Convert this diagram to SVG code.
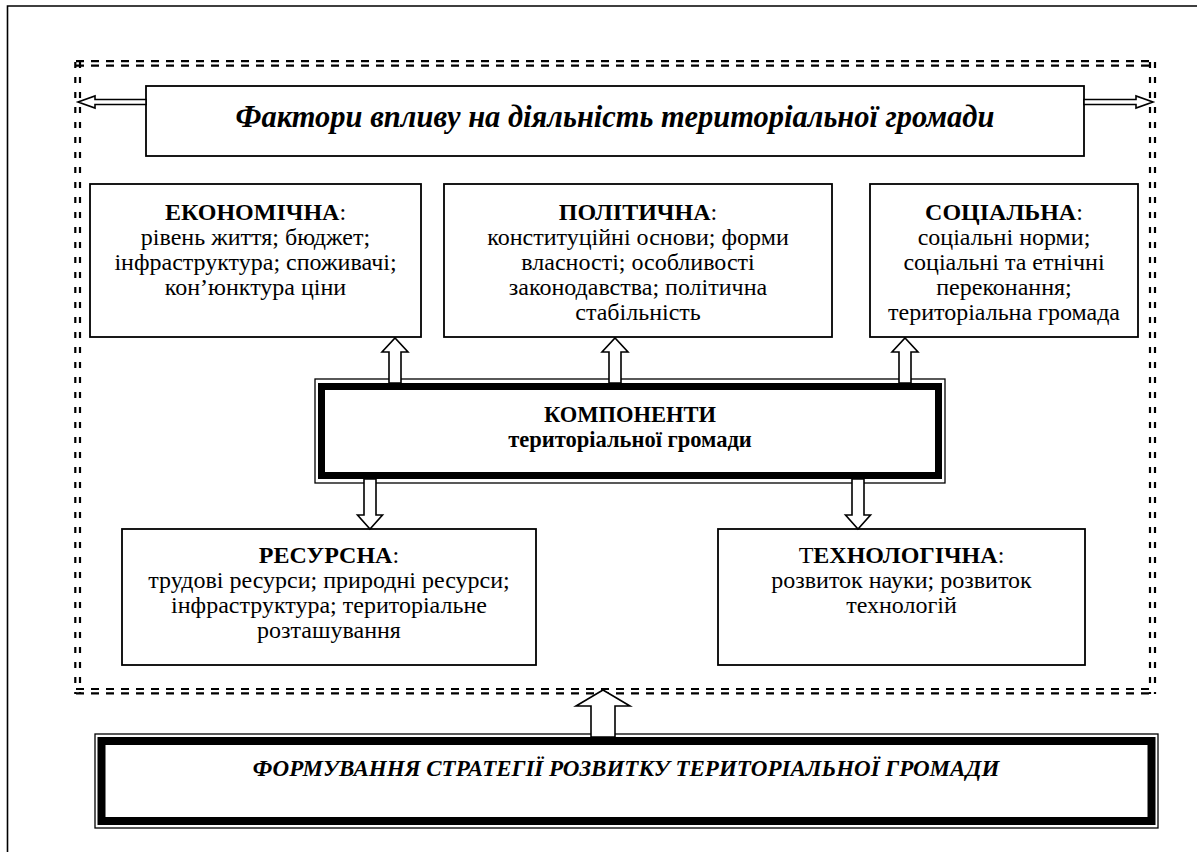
<svg xmlns="http://www.w3.org/2000/svg" width="1197" height="852" viewBox="0 0 1197 852">
<style>
text{font-family:"Liberation Serif","Times New Roman",serif;fill:#000;text-anchor:middle}
.t{font-size:24px}
.b{font-weight:bold}
.n{font-weight:normal}
.bi{font-weight:bold;font-style:italic}
.box{fill:#fff;stroke:#000;stroke-width:1.8}
.thin{fill:none;stroke:#000;stroke-width:1.3}
.thick{fill:none;stroke:#000}
.dh{fill:none;stroke:#000;stroke-width:2.2;stroke-dasharray:8 7}
.dv{fill:none;stroke:#000;stroke-width:2.2;stroke-dasharray:6 9}
.arr{fill:#fff;stroke:#000;stroke-width:1.6;stroke-linejoin:miter}
</style>
<rect width="1197" height="852" fill="#fff"/>
<g id="frame">
<path d="M7.5 852V6H1197" fill="none" stroke="#000" stroke-width="1.6"/>
</g>
<g id="dashed-frame">
<path class="dh" d="M76 61.2H1156M76 65.6H1156M76 689H1156M76 693.4H1156"/>
<path class="dv" d="M75.3 62V694M80 62V694M1150 62V694M1155 62V694"/>
</g>
<g id="factors">
<rect class="box" x="146" y="86" width="938" height="70"/>
<text class="bi" x="615" y="127" font-size="30.5">Фактори впливу на діяльність територіальної громади</text>
</g>
<g id="economic">
<rect class="box" x="90" y="184" width="331" height="153"/>
<text class="t" x="255.5"><tspan class="b" x="255.5" y="220">ЕКОНОМІЧНА<tspan class="n">:</tspan></tspan><tspan x="255.5" y="245">рівень життя; бюджет;</tspan><tspan x="255.5" y="270">інфраструктура; споживачі;</tspan><tspan x="255.5" y="295">кон’юнктура ціни</tspan></text>
</g>
<g id="political">
<rect class="box" x="444" y="184" width="388" height="153"/>
<text class="t" x="638"><tspan class="b" x="638" y="220">ПОЛІТИЧНА<tspan class="n">:</tspan></tspan><tspan x="638" y="245">конституційні основи; форми</tspan><tspan x="638" y="270">власності; особливості</tspan><tspan x="638" y="295">законодавства; політична</tspan><tspan x="638" y="320">стабільність</tspan></text>
</g>
<g id="social">
<rect class="box" x="870" y="184" width="268" height="153"/>
<text class="t" x="1004"><tspan class="b" x="1004" y="220">СОЦІАЛЬНА<tspan class="n">:</tspan></tspan><tspan x="1004" y="245">соціальні норми;</tspan><tspan x="1004" y="270">соціальні та етнічні</tspan><tspan x="1004" y="295">переконання;</tspan><tspan x="1004" y="320">територіальна громада</tspan></text>
</g>
<g id="components">
<rect class="thin" x="315" y="379" width="630" height="104" fill="#fff"/>
<rect class="thick" x="321.5" y="386.5" width="617" height="89" stroke-width="7"/>
<text class="b" x="630" y="422" font-size="22.5">КОМПОНЕНТИ</text>
<text class="b" x="630" y="447" font-size="22.5">територіальної громади</text>
</g>
<g id="resource">
<rect class="box" x="122" y="529" width="414" height="136"/>
<text class="t" x="329"><tspan class="b" x="329" y="563">РЕСУРСНА<tspan class="n">:</tspan></tspan><tspan x="329" y="588">трудові ресурси; природні ресурси;</tspan><tspan x="329" y="613">інфраструктура; територіальне</tspan><tspan x="329" y="638">розташування</tspan></text>
</g>
<g id="technological">
<rect class="box" x="718" y="529" width="367" height="136"/>
<text class="t" x="901.5"><tspan x="901.5" y="563">Т<tspan class="b">ЕХНОЛОГІЧНА</tspan>:</tspan><tspan x="901.5" y="588">розвиток науки; розвиток</tspan><tspan x="901.5" y="613">технологій</tspan></text>
</g>
<g id="strategy">
<rect class="thin" x="95" y="734" width="1063" height="94" fill="#fff"/>
<rect class="thick" x="101.5" y="741" width="1050" height="80" stroke-width="8"/>
<text class="bi" x="626" y="776" font-size="23">ФОРМУВАННЯ СТРАТЕГІЇ РОЗВИТКУ ТЕРИТОРІАЛЬНОЇ ГРОМАДИ</text>
</g>
<g id="connectors">
<polygon class="arr" points="146,99.5 95,99.5 95,96 78,102 95,108 95,104.5 146,104.5"/>
<polygon class="arr" points="1084,99.5 1136,99.5 1136,96 1153,102 1136,108 1136,104.5 1084,104.5"/>
<polygon class="arr" points="389,383 389,352 382,352 395,338 408,352 401,352 401,383"/>
<polygon class="arr" points="609,383 609,352 602,352 615,338 628,352 621,352 621,383"/>
<polygon class="arr" points="899,383 899,352 892,352 905,338 918,352 911,352 911,383"/>
<polygon class="arr" points="364,479 364,515 357.5,515 370,529 382.5,515 376,515 376,479"/>
<polygon class="arr" points="852,479 852,515 845.5,515 858,529 870.5,515 864,515 864,479"/>
<polygon class="arr" points="591,737 591,706 576,706 603,690 630,706 615,706 615,737" stroke-width="2.2"/>
</g>
</svg>
